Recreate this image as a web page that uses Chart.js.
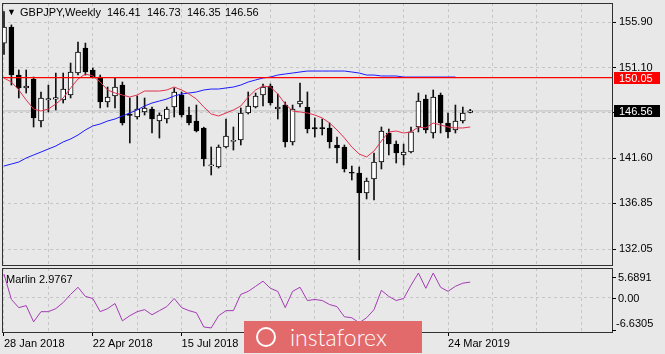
<!DOCTYPE html>
<html>
<head>
<meta charset="utf-8">
<script src="https://cdn.jsdelivr.net/npm/chart.js@4.4.1/dist/chart.umd.min.js"></script>
<style>
  html, body { margin: 0; padding: 0; background: #e8e8e8; }
  #wrap { position: relative; width: 665px; height: 354px; overflow: hidden; font-family: "Liberation Sans", Arial, sans-serif; }
  #main { position: absolute; left: 0; top: 0; }
  #sub { position: absolute; left: 0; top: 266px; }
  .txt { position: absolute; font-size: 11px; line-height: 12px; color: #000; white-space: nowrap; }
  #logo { position: absolute; left: 244px; top: 321px; width: 178px; height: 32px; background: #e36a6b; }
  #logo span { position: absolute; left: 46px; top: 2px; font-family: Lato, "Open Sans", sans-serif; font-weight: 300; font-size: 23px; color: #fff; }
  #logo i { position: absolute; left: 12px; top: 6px; width: 16px; height: 16px; border: 2px solid #fff; border-radius: 50%; }
</style>
</head>
<body>
<div id="wrap">
  <canvas id="main" width="665" height="266"></canvas>
  <canvas id="sub" width="665" height="88"></canvas>
  <div class="txt" style="left:7px;top:6px;font-size:9px">&#9660;</div>
  <div class="txt" style="left:20px;top:6px">GBPJPY,Weekly</div>
  <div class="txt" style="left:107px;top:6px">146.41</div>
  <div class="txt" style="left:147px;top:6px">146.73</div>
  <div class="txt" style="left:187px;top:6px">146.35</div>
  <div class="txt" style="left:225px;top:6px">146.56</div>
  <div class="txt" style="left:6px;top:273px">Marlin 2.9767</div>
  <div id="logo"><i></i><span>instaforex</span></div>
</div>
<script>
// weekly GBPJPY, 28 Jan 2018 .. 14 Apr 2019
const open  = [153.69,155.37,150.33,148.97,149.91,145.50,147.72,147.80,147.71,148.23,150.54,153.17,150.86,150.12,147.50,148.13,
               149.28,146.24,145.92,146.45,146.76,145.50,145.71,146.97,148.23,146.13,145.50,144.77,140.77,140.67,142.77,143.35,
               143.50,146.34,146.97,148.23,149.18,146.76,147.18,143.30,147.29,146.97,144.80,144.80,144.77,142.98,142.77,140.12,
               140.04,137.94,139.41,141.19,144.24,143.08,141.93,142.24,144.87,147.81,144.24,148.23,145.29,144.56,145.50,146.41];
const high  = [157.00,155.60,150.86,150.86,150.12,148.55,149.28,150.54,150.54,151.59,153.80,153.69,151.07,150.33,149.07,150.02,
               149.60,147.92,148.13,147.92,146.97,146.34,146.97,148.97,148.55,146.97,147.18,144.85,142.77,142.98,145.71,144.87,
               146.87,148.55,148.44,149.39,149.39,148.34,147.50,147.18,149.49,148.55,145.82,145.71,145.29,143.82,142.98,140.77,
               140.67,139.51,142.14,144.87,144.66,143.40,143.08,144.87,148.44,148.23,148.76,148.44,146.34,147.18,146.97,146.73];
const low   = [152.50,149.28,147.92,148.44,144.87,144.87,146.45,146.66,147.39,147.92,150.33,150.33,150.02,146.87,146.97,146.87,
               145.08,143.19,145.71,146.13,144.24,143.71,145.29,145.92,145.92,145.08,144.35,140.77,139.83,140.56,142.66,142.45,
               142.98,146.24,146.87,147.08,147.18,145.71,142.77,142.98,146.97,144.24,143.82,144.03,142.66,141.09,140.14,139.30,
               130.90,137.31,137.20,140.46,141.93,141.09,140.88,142.14,144.35,144.24,143.71,144.24,143.71,144.24,145.29,146.35];
const close = [155.37,150.33,148.97,149.18,145.82,147.92,147.86,147.95,148.86,150.65,152.75,150.65,150.12,147.50,148.02,149.07,
               145.29,146.10,146.76,146.87,145.71,146.13,146.76,148.55,146.13,145.29,144.45,141.51,140.90,142.77,143.92,143.48,
               146.34,147.08,148.13,149.07,147.39,146.97,143.30,146.76,147.60,144.66,144.68,144.70,143.30,142.66,140.46,140.02,
               137.94,139.20,141.19,144.45,143.08,142.14,142.24,144.35,147.60,144.56,148.02,145.29,144.35,145.50,146.34,146.56];
const maFast = [150.02,149.60,148.76,147.71,146.76,146.55,146.76,147.29,147.92,148.97,149.91,150.44,150.23,149.60,148.76,148.44,
                148.23,148.02,148.23,148.65,148.65,148.65,148.76,149.07,148.76,148.34,147.81,146.97,146.24,146.03,146.34,146.66,
                147.08,148.02,148.76,149.18,149.07,148.34,147.29,146.55,146.45,146.34,146.13,145.82,145.29,144.56,143.72,142.77,
                142.03,141.72,142.35,143.40,144.35,144.45,144.24,144.35,144.87,144.77,145.29,145.08,144.87,144.77,144.77,144.87];
const maSlow = [140.77,140.98,141.19,141.61,141.93,142.24,142.56,142.87,143.30,143.61,144.03,144.56,144.98,145.19,145.50,145.71,
                146.03,146.34,146.66,147.08,147.39,147.60,147.81,148.13,148.34,148.44,148.55,148.76,148.86,148.86,148.97,149.07,
                149.28,149.60,149.81,150.02,150.12,150.33,150.44,150.54,150.65,150.75,150.75,150.75,150.75,150.75,150.75,150.65,
                150.54,150.33,150.33,150.23,150.23,150.23,150.12,150.12,150.12,150.12,150.12,150.12,150.12,150.12];
const marlin = [4.52,-0.37,-1.94,-1.55,-4.68,-2.72,-2.72,-2.13,-0.96,0.61,1.98,0.22,-0.18,-2.72,-2.13,-1.15,
                -4.48,-3.50,-2.72,-2.33,-3.31,-2.52,-1.74,-0.18,-1.94,-2.52,-2.92,-5.66,-5.85,-3.50,-2.52,-2.52,
                0.61,1.19,2.17,3.15,1.78,1.19,-1.94,1.19,1.98,-0.57,-0.37,-0.57,-1.35,-1.74,-3.70,-3.89,
                -4.87,-3.89,-2.33,1.39,0.22,-0.57,-0.18,2.37,4.72,1.78,4.72,1.98,1.19,2.17,2.76,2.9767];
const levelPrice = 150.05;
const lastPrice = 146.56;
const priceTicks = [132.05, 136.85, 141.60, 146.35, 151.10, 155.90];
const marlinTicks = [5.6891, 0, -6.6305];
const tickWeeks = [0, 12, 24, 36, 48, 60];
const tickDates = ['28 Jan 2018', '22 Apr 2018', '15 Jul 2018', '7 Oct 2018', '30 Dec 2018', '24 Mar 2019'];

const xMin = -0.27, xMax = 82.16;
const gridWeeks = [];
for (let w = 0; w <= 78; w += 6) gridWeeks.push(w);

Chart.defaults.font.family = '"Liberation Sans", Arial, sans-serif';
Chart.defaults.font.size = 11;
Chart.defaults.color = '#000';
Chart.defaults.animation = false;

const gridColor = '#c6c6c6';

const frame = {
    id: 'frame',
    afterDraw(chart) {
        const a = chart.chartArea, ctx = chart.ctx;
        ctx.save();
        ctx.strokeStyle = '#303030';
        ctx.lineWidth = 1;
        ctx.strokeRect(a.left + 0.5, a.top + 0.5, a.right - a.left, a.bottom - a.top);
        ctx.restore();
    }
};

const priceTags = {
    id: 'priceTags',
    afterDraw(chart) {
        const ctx = chart.ctx, y = chart.scales.y;
        function tag(v, bg) {
            const p = Math.round(y.getPixelForValue(v));
            ctx.fillStyle = bg;
            ctx.fillRect(614, p - 6, 46, 12);
            ctx.fillStyle = '#fff';
            ctx.font = '11px "Liberation Sans", Arial, sans-serif';
            ctx.textBaseline = 'middle';
            ctx.fillText(v.toFixed(2), 619, p + 0.5);
        }
        tag(levelPrice, '#ff0000');
        tag(lastPrice, '#000000');
    }
};

// drop the half-label padding chart.js adds at the ends of a vertical axis
function fitRight(s) {
    s.width = 53;
    s.paddingTop = 0;
    s.paddingBottom = 0;
}

const idx = open.map((v, i) => i);

new Chart(document.getElementById('main'), {
    type: 'bar',
    data: {
        datasets: [
            {
                type: 'line', data: [{x: xMin, y: lastPrice}, {x: xMax, y: lastPrice}],
                borderColor: '#bdbdbd', borderWidth: 1, pointRadius: 0, order: 9
            },
            {
                data: idx.map(i => ({x: i, y: [low[i], high[i]]})),
                backgroundColor: '#111', barThickness: 1, grouped: false, order: 8
            },
            {
                data: idx.map(i => ({x: i, y: [open[i], close[i]]})),
                backgroundColor: idx.map(i => close[i] > open[i] ? '#ffffff' : '#000000'),
                borderColor: '#000', borderWidth: 1, borderSkipped: false,
                barThickness: 5, grouped: false, order: 7
            },
            {
                type: 'line', data: maSlow.map((v, i) => ({x: i, y: v})),
                borderColor: '#1a1aff', borderWidth: 1, pointRadius: 0, order: 3
            },
            {
                type: 'line', data: maFast.map((v, i) => ({x: i, y: v})),
                borderColor: '#e0324f', borderWidth: 1, pointRadius: 0, order: 2
            },
            {
                type: 'line', data: [{x: xMin, y: levelPrice}, {x: xMax, y: levelPrice}],
                borderColor: '#ff0000', borderWidth: 1.3, pointRadius: 0, order: 1
            }
        ]
    },
    options: {
        responsive: false,
        layout: {padding: {left: 2, top: 3, right: 0, bottom: 0}},
        plugins: {legend: {display: false}, tooltip: {enabled: false}},
        scales: {
            x: {
                type: 'linear', min: xMin, max: xMax, offset: false,
                afterBuildTicks: s => { s.ticks = gridWeeks.map(v => ({value: v})); },
                afterFit: s => { s.height = 1; },
                ticks: {display: false},
                grid: {color: gridColor, drawTicks: false, offset: false},
                border: {display: false, dash: [3, 3]}
            },
            y: {
                position: 'right', min: 130.37, max: 157.90,
                afterBuildTicks: s => { s.ticks = priceTicks.map(v => ({value: v})); },
                afterFit: fitRight,
                ticks: {padding: 3, callback: v => v.toFixed(2)},
                grid: {color: gridColor, tickColor: '#000', tickLength: 4, tickBorderDash: []},
                border: {display: false, dash: [3, 3]}
            }
        }
    },
    plugins: [frame, priceTags]
});

const marlinLabels = {
    id: 'marlinLabels',
    afterDraw(chart) {
        const ctx = chart.ctx, a = chart.chartArea;
        const ys = [a.top + 9, chart.scales.y.getPixelForValue(0), a.bottom - 2];
        const ly = [a.top + 10, chart.scales.y.getPixelForValue(0) + 1, a.bottom - 8];
        ctx.save();
        ctx.strokeStyle = '#000';
        ctx.fillStyle = '#000';
        ctx.font = '11px "Liberation Sans", Arial, sans-serif';
        ctx.textBaseline = 'middle';
        marlinTicks.forEach((v, k) => {
            const p = Math.round(ys[k]) + 0.5;
            ctx.beginPath(); ctx.moveTo(a.right, p); ctx.lineTo(a.right + 4, p); ctx.stroke();
            ctx.fillText(v === 0 ? '0.00' : v.toFixed(4), v < 0 ? 616 : 618, ly[k]);
        });
        ctx.restore();
    }
};

new Chart(document.getElementById('sub'), {
    type: 'line',
    data: {
        datasets: [{
            data: marlin.map((v, i) => ({x: i, y: v})),
            borderColor: '#a43bb4', borderWidth: 1, pointRadius: 0
        }]
    },
    options: {
        responsive: false,
        layout: {padding: {left: 2, top: 2, right: 0, bottom: 0}},
        plugins: {legend: {display: false}, tooltip: {enabled: false}},
        scales: {
            x: {
                type: 'linear', min: xMin, max: xMax,
                afterBuildTicks: s => { s.ticks = gridWeeks.map(v => ({value: v})); },
                afterFit: s => { s.height = 22; s.paddingLeft = 0; s.paddingRight = 0; },
                ticks: {
                    align: 'start', maxRotation: 0, autoSkip: false, padding: 1,
                    callback: v => { const k = tickWeeks.indexOf(v); return k >= 0 ? tickDates[k] : ''; }
                },
                grid: {
                    color: gridColor, tickLength: 4, tickBorderDash: [],
                    tickColor: c => tickWeeks.indexOf(c.tick && c.tick.value) >= 0 ? '#000' : 'rgba(0,0,0,0)'
                },
                border: {display: false, dash: [3, 3]}
            },
            y: {
                position: 'right', min: marlinTicks[2], max: marlinTicks[0],
                afterBuildTicks: s => { s.ticks = [{value: 0}]; },
                afterFit: fitRight,
                ticks: {display: false},
                grid: {color: gridColor, drawTicks: false},
                border: {display: false, dash: [3, 3]}
            }
        }
    },
    plugins: [frame, marlinLabels]
});
</script>
</body>
</html>
